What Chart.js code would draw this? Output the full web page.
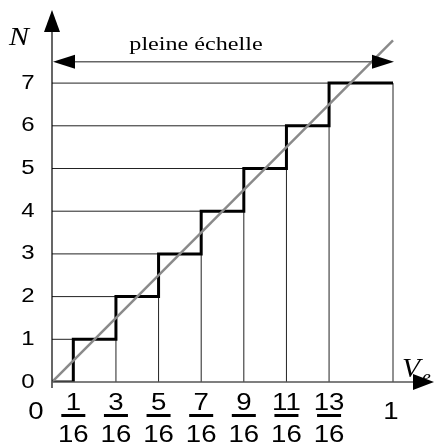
<!DOCTYPE html>
<html>
<head>
<meta charset="utf-8">
<script src="https://cdn.jsdelivr.net/npm/chart.js@4"></script>
<style>
  body { margin: 0; background: #fff; }
  #boite { width: 434px; height: 447px; }
</style>
</head>
<body>
<div id="boite"><canvas id="chart_can"></canvas></div>
<script>
// Codes de sortie N et seuils de transition (numerateurs sur 16)
var codes = [0, 1, 2, 3, 4, 5, 6, 7];
var seuils = [1, 3, 5, 7, 9, 11, 13];
var denominateur = 16;
var pleineEchelle = 1;
var droiteIdeale = [0, 8]; // N ideal a Ve = 0 et Ve = 1
var niveauFleche = 7.5;

var SANS = '"Liberation Sans", Arial, Helvetica, sans-serif';
var SERIF = '"Liberation Serif", "Times New Roman", Times, serif';

// escalier (trait epais)
var escalier = [{ x: 0, y: codes[0] }];
for (let i = 0; i < seuils.length; i++) {
    escalier.push({ x: seuils[i] / denominateur, y: codes[i + 1] });
}
escalier.push({ x: pleineEchelle, y: codes[codes.length - 1] });

// traits fins de rappel vers les axes
var rappels = [];
for (let i = 0; i < seuils.length; i++) {
    var xs = seuils[i] / denominateur;
    rappels.push({ x: 0, y: codes[i + 1] }, { x: xs, y: codes[i + 1] }, { x: xs, y: null });
    rappels.push({ x: xs, y: 0 }, { x: xs, y: codes[i] }, { x: xs, y: null });
}
rappels.push({ x: pleineEchelle, y: 0 }, { x: pleineEchelle, y: codes[codes.length - 1] });

function texteEtire(ctx, txt, x, y, sx) {
    ctx.save();
    ctx.translate(x, y);
    ctx.scale(sx, 1);
    ctx.fillText(txt, 0, 0);
    ctx.restore();
}

function fleche(ctx, xTip, yTip, dir, long, demi) {
    // dir: 'haut', 'droite', 'gauche'
    ctx.beginPath();
    ctx.moveTo(xTip, yTip);
    if (dir === 'haut') {
        ctx.lineTo(xTip - demi, yTip + long);
        ctx.lineTo(xTip + demi, yTip + long);
    } else if (dir === 'droite') {
        ctx.lineTo(xTip - long, yTip - demi);
        ctx.lineTo(xTip - long, yTip + demi);
    } else {
        ctx.lineTo(xTip + long, yTip - demi);
        ctx.lineTo(xTip + long, yTip + demi);
    }
    ctx.closePath();
    ctx.fillStyle = '#000';
    ctx.fill();
}

var decor = {
    id: 'decor',
    afterDatasetsDraw: function (chart) {
        var ctx = chart.ctx;
        var sx = chart.scales.x;
        var sy = chart.scales.y;
        var x0 = sx.getPixelForValue(0);
        var y0 = sy.getPixelForValue(0);
        var sx1 = 1.2;

        ctx.save();
        // axe vertical
        ctx.strokeStyle = '#000';
        ctx.lineWidth = 1.2;
        ctx.beginPath();
        ctx.moveTo(x0, y0 + 6);
        ctx.lineTo(x0, 30);
        ctx.stroke();
        fleche(ctx, x0, 10, 'haut', 22, 8);

        // axe horizontal
        ctx.strokeStyle = '#555';
        ctx.lineWidth = 1.5;
        ctx.beginPath();
        ctx.moveTo(x0, y0);
        ctx.lineTo(420, y0);
        ctx.stroke();
        fleche(ctx, 434, y0, 'droite', 21, 8);

        // fleche pleine echelle
        var yf = sy.getPixelForValue(niveauFleche);
        var xd = sx.getPixelForValue(pleineEchelle);
        ctx.strokeStyle = '#666';
        ctx.lineWidth = 1.5;
        ctx.beginPath();
        ctx.moveTo(x0 + 15, yf);
        ctx.lineTo(xd - 15, yf);
        ctx.stroke();
        fleche(ctx, x0 + 1, yf, 'gauche', 22, 7);
        fleche(ctx, xd + 1, yf, 'droite', 22, 7);

        ctx.fillStyle = '#000';
        ctx.textAlign = 'center';
        ctx.textBaseline = 'alphabetic';
        ctx.font = '19px ' + SERIF;
        texteEtire(ctx, 'pleine échelle', 196, 50, 1.27);

        // graduations N
        ctx.font = '20px ' + SANS;
        ctx.textBaseline = 'middle';
        for (let i = 0; i < codes.length; i++) {
            texteEtire(ctx, String(codes[i]), 28, sy.getPixelForValue(codes[i]), sx1);
        }

        // graduations Ve (fractions)
        ctx.font = '23px ' + SANS;
        ctx.textBaseline = 'alphabetic';
        texteEtire(ctx, '0', 36, 419, sx1);
        texteEtire(ctx, String(pleineEchelle), sx.getPixelForValue(pleineEchelle) - 2, 419, sx1);
        for (let i = 0; i < seuils.length; i++) {
            var xp = sx.getPixelForValue(seuils[i] / denominateur);
            texteEtire(ctx, String(seuils[i]), xp, 410, sx1);
            ctx.fillRect(xp - 12, 414, 24, 3);
            texteEtire(ctx, String(denominateur), xp, 442, sx1);
        }

        // noms des axes
        ctx.font = 'italic 26px ' + SERIF;
        ctx.textAlign = 'left';
        texteEtire(ctx, 'N', 9, 45, 1.15);
        ctx.font = 'italic 27px ' + SERIF;
        texteEtire(ctx, 'V', 402, 377, 1.1);
        ctx.font = 'italic 18px ' + SERIF;
        texteEtire(ctx, 'e', 422, 383, 1.1);
        ctx.restore();
    }
};

var config = {
    type: 'line',
    data: {
        datasets: [
            {
                label: 'droite',
                data: [{ x: 0, y: droiteIdeale[0] }, { x: pleineEchelle, y: droiteIdeale[1] }],
                borderColor: '#8a8a8a',
                borderWidth: 2.5,
                pointRadius: 0,
                order: 0
            },
            {
                label: 'escalier',
                data: escalier,
                stepped: 'before',
                borderColor: '#000',
                borderWidth: 3,
                pointRadius: 0,
                order: 1
            },
            {
                label: 'rappels',
                data: rappels,
                spanGaps: false,
                borderColor: '#222',
                borderWidth: 1,
                pointRadius: 0,
                order: 2
            }
        ]
    },
    options: {
        responsive: true,
        maintainAspectRatio: false,
        animation: false,
        layout: { padding: { left: 52, right: 0, top: 10, bottom: 65 } },
        scales: {
            x: { type: 'linear', min: 0, max: 382 / 341, display: false },
            y: { type: 'linear', min: 0, max: 372 / 42.7, display: false }
        },
        plugins: { legend: { display: false }, tooltip: { enabled: false } }
    },
    plugins: [decor]
};

new Chart(document.getElementById('chart_can'), config);
</script>
</body>
</html>
